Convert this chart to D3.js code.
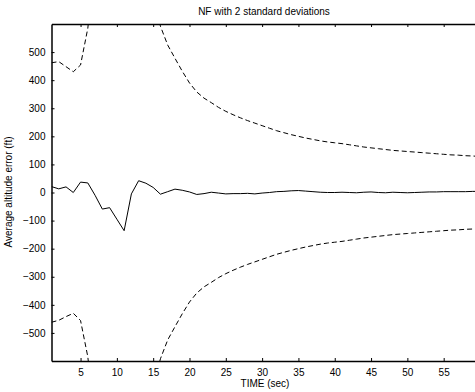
<!DOCTYPE html>
<html>
<head>
<meta charset="utf-8">
<script src="https://cdn.jsdelivr.net/npm/d3@7"></script>
<style>
  body { margin: 0; background: #fff; }
  svg text { font-family: "Liberation Sans", Arial, sans-serif; fill: #000; }
</style>
</head>
<body>
<div id="graph"></div>
<script>
//time steps (sec)
var timeSteps = d3.range(1, 61);

//average altitude error
var meanError = [21, 13, 20, 0, 37, 34, -10, -59, -54, -95,
    -136, -5, 42, 33, 18, -6, 3, 12, 8, 2,
    -7, -4, 1, -2, -5, -4, -4, -3, -5, -2,
    0, 3, 4, 6, 7, 5, 3, 1, 0, 0,
    1, 0, -1, 1, 2, 0, -1, 1, 0, -1,
    0, 1, 2, 2, 3, 3, 3, 3, 4, 4];

//upper 2 sigma bound (values above 600 are off the plot)
var upperBound = [462, 466, 448, 430, 454, 585, 820, 980, 1100, 1200,
    1250, 1150, 980, 820, 690, 592, 525, 478, 432, 390,
    358, 336, 320, 303, 289, 277, 266, 256, 247, 238,
    229, 220, 213, 206, 200, 194, 189, 184, 180, 177,
    174, 170, 166, 162, 159, 156, 153, 150, 148, 146,
    144, 142, 140, 138, 136, 134, 133, 131, 130, 128];

//lower 2 sigma bound
var lowerBound = [-462, -455, -442, -430, -456, -585, -820, -980, -1100, -1200,
    -1250, -1150, -980, -820, -690, -592, -525, -478, -432, -390,
    -358, -336, -320, -303, -289, -277, -266, -256, -247, -238,
    -229, -220, -213, -206, -200, -194, -189, -184, -180, -177,
    -174, -170, -166, -162, -159, -156, -153, -150, -148, -146,
    -144, -142, -140, -138, -136, -134, -133, -131, -130, -128];

var xTicks = [5, 10, 15, 20, 25, 30, 35, 40, 45, 50, 55];
var yTicks = [-500, -400, -300, -200, -100, 0, 100, 200, 300, 400, 500];

//chart size
var width = 475, height = 392;
var plotLeft = 51.5, plotRight = 480, plotTop = 24, plotBottom = 361;

var svg = d3.select("#graph").append("svg")
    .attr("width", width)
    .attr("height", height);

var x = d3.scaleLinear().domain([1, 60]).range([plotLeft, plotRight]);
var y = d3.scaleLinear().domain([-600, 600]).range([plotBottom, plotTop]);

//clip to plot box
svg.append("clipPath").attr("id", "plotclip")
    .append("rect")
    .attr("x", plotLeft).attr("y", plotTop)
    .attr("width", plotRight - plotLeft).attr("height", plotBottom - plotTop);

var plot = svg.append("g").attr("clip-path", "url(#plotclip)");

function makeLine(values) {
    return d3.line()
        .x(function(d, i){ return x(timeSteps[i]); })
        .y(function(d){ return y(d); })(values);
}

//dashed bounds
[upperBound, lowerBound].forEach(function(b){
    plot.append("path")
        .attr("d", makeLine(b))
        .attr("fill", "none")
        .attr("stroke", "#000")
        .attr("stroke-width", 1)
        .attr("stroke-dasharray", "5,3");
});

//mean line
plot.append("path")
    .attr("d", makeLine(meanError))
    .attr("fill", "none")
    .attr("stroke", "#000")
    .attr("stroke-width", 1);

function styleAxis(g) {
    g.select(".domain").attr("stroke", "#000").attr("stroke-width", 1.5);
    g.selectAll(".tick line").attr("stroke", "#000");
    g.selectAll("text").attr("font-size", 10)
        .attr("font-family", "Liberation Sans, Arial, sans-serif");
}

//axes (ticks pointing inward)
svg.append("g")
    .attr("transform", "translate(0," + plotBottom + ")")
    .call(d3.axisBottom(x).tickValues(xTicks).tickSizeInner(-3).tickSizeOuter(0).tickPadding(8))
    .call(styleAxis);

svg.append("g")
    .attr("transform", "translate(0," + plotTop + ")")
    .call(d3.axisTop(x).tickValues(xTicks).tickSizeInner(-3).tickSizeOuter(0).tickFormat(""))
    .call(styleAxis);

svg.append("g")
    .attr("transform", "translate(" + plotLeft + ",0)")
    .call(d3.axisLeft(y).tickValues(yTicks).tickSizeInner(-3).tickSizeOuter(0).tickPadding(6))
    .call(styleAxis);

//title and labels
svg.append("text")
    .attr("x", 264).attr("y", 15)
    .attr("text-anchor", "middle")
    .attr("font-size", 10)
    .text("NF with 2 standard deviations");

svg.append("text")
    .attr("x", 265).attr("y", 387)
    .attr("text-anchor", "middle")
    .attr("font-size", 10)
    .text("TIME (sec)");

svg.append("text")
    .attr("transform", "translate(12,192) rotate(-90)")
    .attr("text-anchor", "middle")
    .attr("font-size", 10)
    .text("Average altitude error (ft)");
</script>
</body>
</html>
